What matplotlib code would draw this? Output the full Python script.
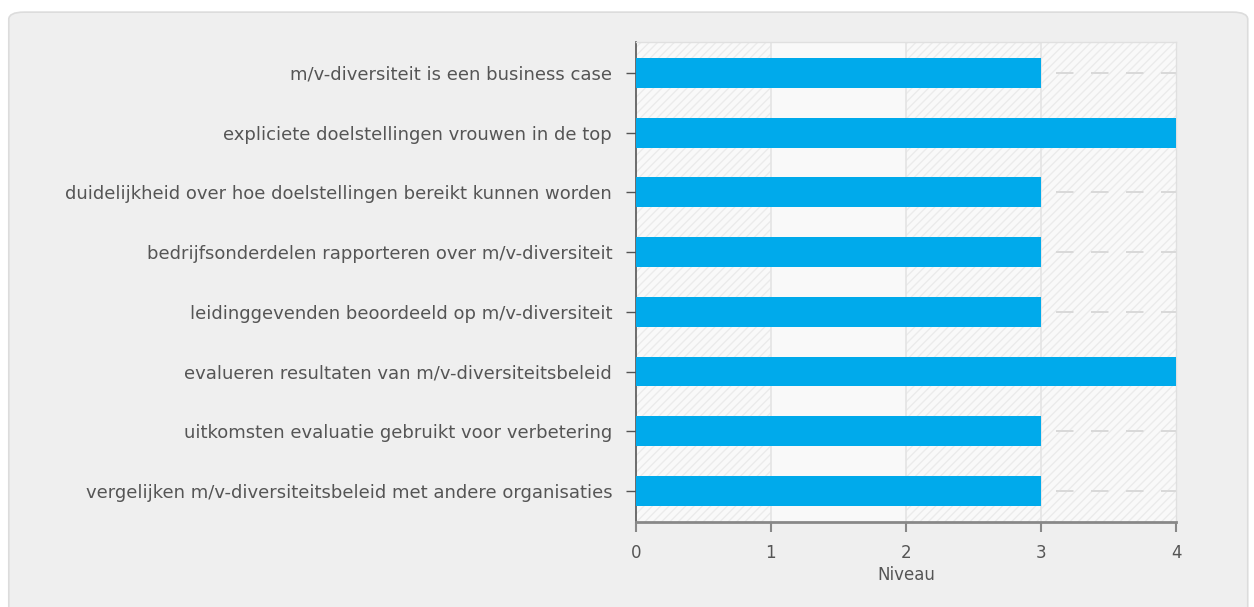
import matplotlib.pyplot as plt
from matplotlib.patches import FancyBboxPatch

labels = [
    "m/v-diversiteit is een business case",
    "expliciete doelstellingen vrouwen in de top",
    "duidelijkheid over hoe doelstellingen bereikt kunnen worden",
    "bedrijfsonderdelen rapporteren over m/v-diversiteit",
    "leidinggevenden beoordeeld op m/v-diversiteit",
    "evalueren resultaten van m/v-diversiteitsbeleid",
    "uitkomsten evaluatie gebruikt voor verbetering",
    "vergelijken m/v-diversiteitsbeleid met andere organisaties",
]
niveau = [3, 4, 3, 3, 3, 4, 3, 3]
xticks = [0, 1, 2, 3, 4]

plt.rcParams['hatch.linewidth'] = 1.0

fig = plt.figure(figsize=(12.54, 6.07), dpi=100, facecolor='white')

# grey rounded panel behind the chart
panel = FancyBboxPatch((0.007, -0.02), 0.988, 1.0, transform=fig.transFigure,
                       boxstyle='round,pad=0,rounding_size=0.012',
                       facecolor='#efefef', edgecolor='#dcdcdc', lw=1.2, zorder=-10)
fig.patches.append(panel)

ax = fig.add_axes([0.507, 0.140, 0.431, 0.791])
ax.set_facecolor('#f9f9f9')

# striped plot background, plain column between 1 and 2
ax.axvspan(0, 4, facecolor='#f9f9f9', edgecolor='#ebebeb', hatch='////', lw=0, zorder=0.2)
ax.axvspan(1, 2, facecolor='#f9f9f9', edgecolor='none', lw=0, zorder=0.3)

ypos = list(range(len(labels)))
ax.barh(ypos, niveau, height=0.5, color='#00aaeb', zorder=3)

# dashed category lines and vertical grid
for y in ypos:
    ax.axhline(y, color='#d9d9d9', lw=1.4, ls=(0, (9, 9)), zorder=1)
for x in xticks[1:-1]:
    ax.axvline(x, color='#e4e4e4', lw=1.2, zorder=1)

ax.set_xlim(0, 4)
ax.set_ylim(7.52, -0.52)
ax.set_xticks(xticks)
ax.set_yticks(ypos)
ax.set_yticklabels(labels)

ax.tick_params(axis='y', length=7, width=1, color='#555555', labelsize=13,
               labelcolor='#555555', pad=10)
ax.tick_params(axis='x', length=7, width=1.5, color='#888888', labelsize=12,
               labelcolor='#555555', pad=9)
ax.set_xlabel('Niveau', fontsize=12, color='#555555', labelpad=3)

ax.spines['left'].set_color('#555555')
ax.spines['left'].set_linewidth(1.2)
ax.spines['bottom'].set_color('#888888')
ax.spines['bottom'].set_linewidth(2)
for s in ('top', 'right'):
    ax.spines[s].set_color('#e0e0e0')
    ax.spines[s].set_linewidth(1)

fig.savefig('out.png', dpi=100, facecolor='white')
